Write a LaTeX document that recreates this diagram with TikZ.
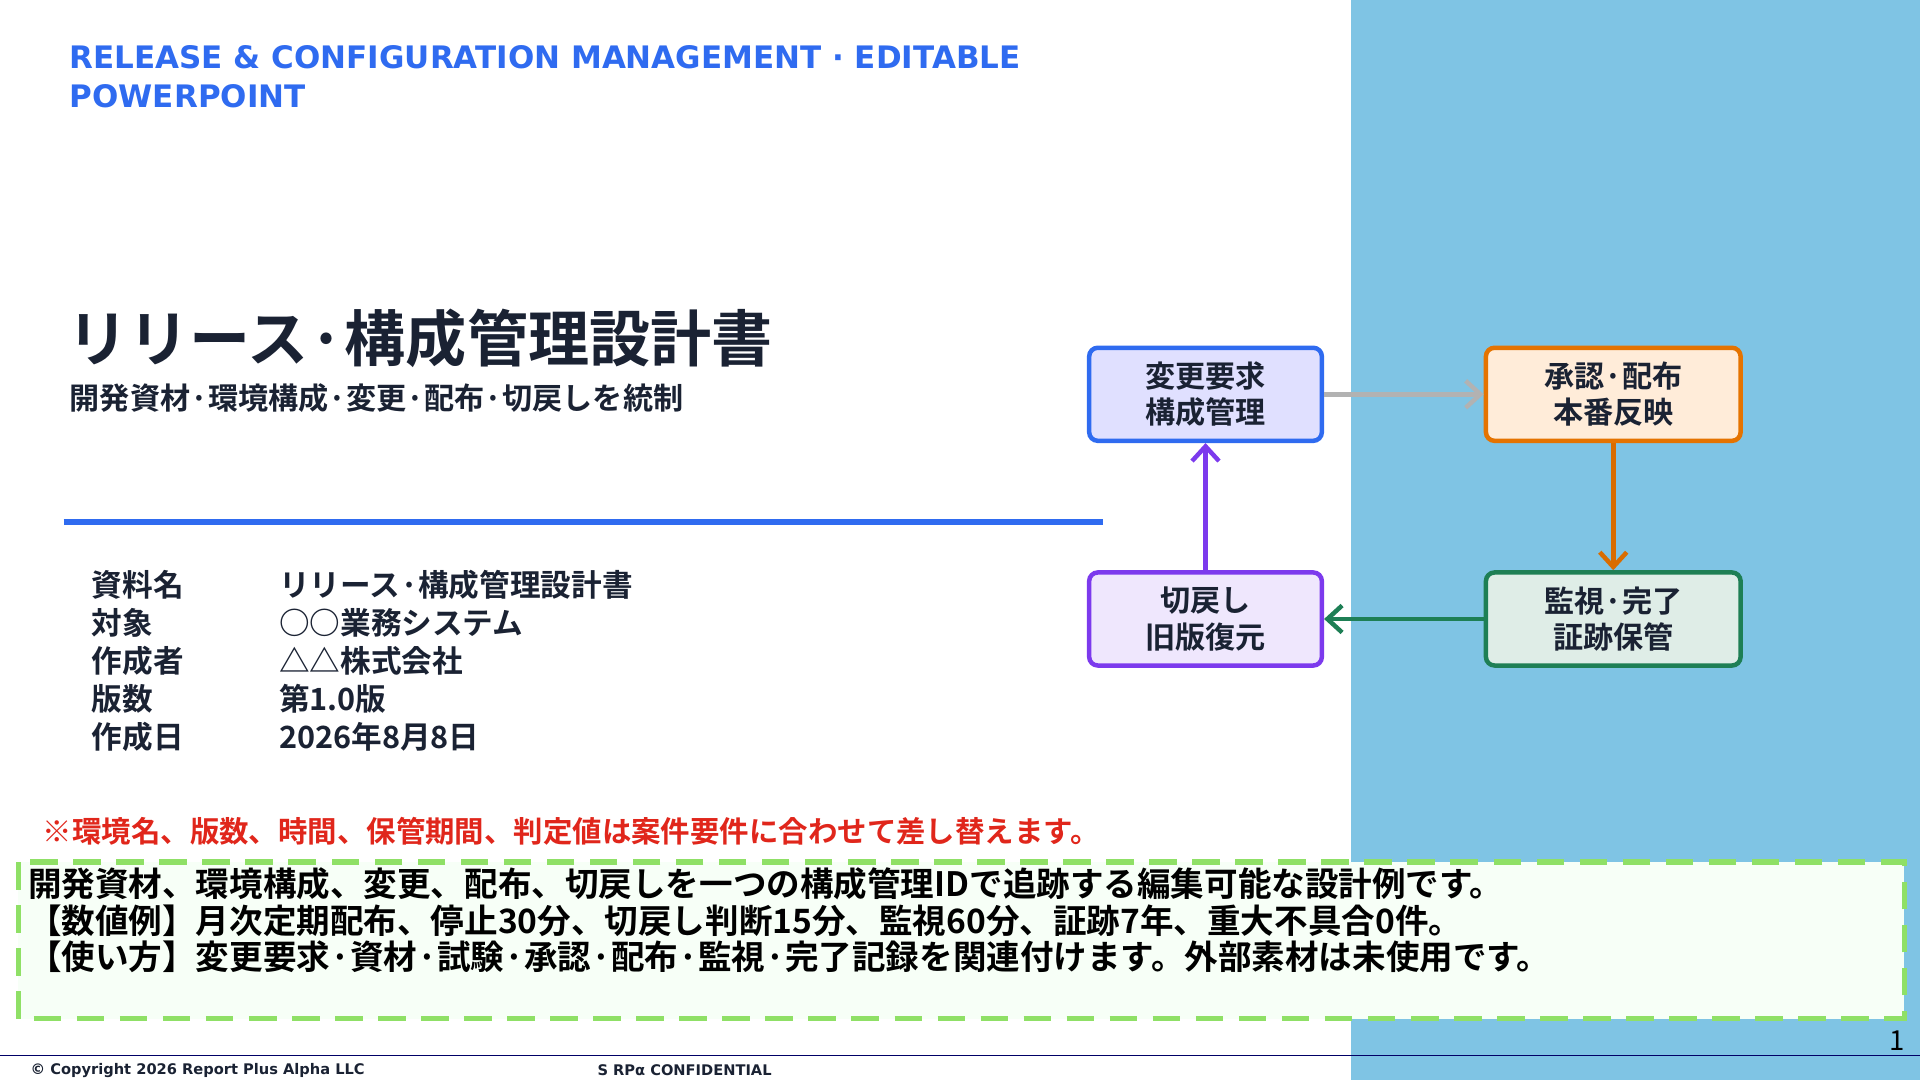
\documentclass[tikz,border=0pt]{standalone}
\usepackage{fontspec}
\setmainfont{Noto Sans CJK JP}[BoldFont={Noto Sans CJK JP Bold}]
\newfontfamily\latinhd{DejaVu Sans}[BoldFont={DejaVu Sans Bold}]
\usetikzlibrary{arrows.meta}
\definecolor{panel}{HTML}{7FC4E4}
\definecolor{hdblue}{HTML}{2F6BF0}
\definecolor{inkdark}{HTML}{1A2233}
\definecolor{notered}{HTML}{E0261B}
\definecolor{backvio}{HTML}{7C3AED}
\definecolor{mongreen}{HTML}{1E7F55}
\tikzset{
	stage/.style={draw, line width=2.6pt, rounded corners=5pt, minimum width=47.5mm, minimum height=19mm, align=center, font=\fontsize{17.5}{21}\selectfont\bfseries, text=inkdark},
	flow/.style={line width=2.6pt, -{Straight Barb[length=3mm,width=5.5mm]}},
	info/.style={anchor=west, font=\fontsize{17.8}{20}\selectfont\bfseries, text=inkdark}
}
\begin{document}
\begin{tikzpicture}[x=0.25mm, y=-0.25mm]
	\useasboundingbox (0,0) rectangle (1568,882);
	\fill[panel] (1103,0) rectangle (1568,882);
	% header
	\node[anchor=north west, align=left, text=hdblue, font=\latinhd\fontsize{18}{22.5}\selectfont\bfseries] (hd) at (52,32) {RELEASE \& CONFIGURATION MANAGEMENT · EDITABLE\\POWERPOINT};
	\node[anchor=west, text=inkdark, font=\fontsize{35.5}{40}\selectfont\bfseries] (title) at (50,276) {リリース·構成管理設計書};
	\node[anchor=west, text=inkdark, font=\fontsize{17.5}{18}\selectfont\bfseries] (sub) at (52,325) {開発資材·環境構成·変更·配布·切戻しを統制};
	\draw[hdblue, line width=3.5pt] (52,426) -- (901,426);
	% info table
	\node[info] (k1) at (70,478) {資料名}; \node[info] (v1) at (223,478) {リリース·構成管理設計書};
	\node[info] (k2) at (70,509) {対象};   \node[info] (v2) at (223,509) {○○業務システム};
	\node[info] (k3) at (70,540) {作成者}; \node[info] (v3) at (223,540) {△△株式会社};
	\node[info] (k4) at (70,571) {版数};   \node[info] (v4) at (223,571) {第1.0版};
	\node[info] (k5) at (70,602) {作成日}; \node[info] (v5) at (223,602) {2026年8月8日};
	% flow
	\node[stage, fill=blue!12, draw=hdblue] (req) at (984.5,322) {変更要求\\構成管理};
	\node[stage, fill=orange!15, draw=orange!90!black, minimum width=52mm] (appr) at (1317.5,322) {承認·配布\\本番反映};
	\node[stage, fill=mongreen!14, draw=mongreen, minimum width=52mm] (mon) at (1317.5,505.5) {監視·完了\\証跡保管};
	\node[stage, fill=backvio!12, draw=backvio] (back) at (984.5,505.5) {切戻し\\旧版復元};
	\draw[flow, gray!60] (req) -- (appr);
	\draw[flow, orange!85!black] (appr) -- (mon);
	\draw[flow, mongreen] (mon) -- (back);
	\draw[flow, backvio] (back) -- (req);
	% notes
	\node[anchor=west, text=notered, font=\fontsize{17.1}{20}\selectfont\bfseries] (note) at (30,679) {※環境名、版数、時間、保管期間、判定値は案件要件に合わせて差し替えます。};
	\draw[draw=green!55!lime!80!black!60, fill=green!3, line width=3pt, dash pattern=on 16pt off 9pt] (15,704) rectangle (1555,832);
	\node[anchor=north west, align=left, text=black, font=\fontsize{19.5}{21}\selectfont\bfseries] (body) at (18,704) {開発資材、環境構成、変更、配布、切戻しを一つの構成管理IDで追跡する編集可能な設計例です。\\【数値例】月次定期配布、停止30分、切戻し判断15分、監視60分、証跡7年、重大不具合0件。\\【使い方】変更要求·資材·試験·承認·配布·監視·完了記録を関連付けます。外部素材は未使用です。};
	% footer
	\draw[blue!40!black, line width=0.8pt] (0,862) -- (1568,862);
	\node[anchor=west, font=\latinhd\fontsize{8.5}{10}\selectfont\bfseries, text=inkdark] (copy) at (20,874) {© Copyright 2026 Report Plus Alpha LLC};
	\node[anchor=west, font=\latinhd\fontsize{8.5}{10}\selectfont\bfseries, text=inkdark] (conf) at (483,874) {S RPα CONFIDENTIAL};
	\node[font=\fontsize{16}{18}\selectfont, text=black] (pg) at (1549,850) {1};
\end{tikzpicture}
\end{document}
